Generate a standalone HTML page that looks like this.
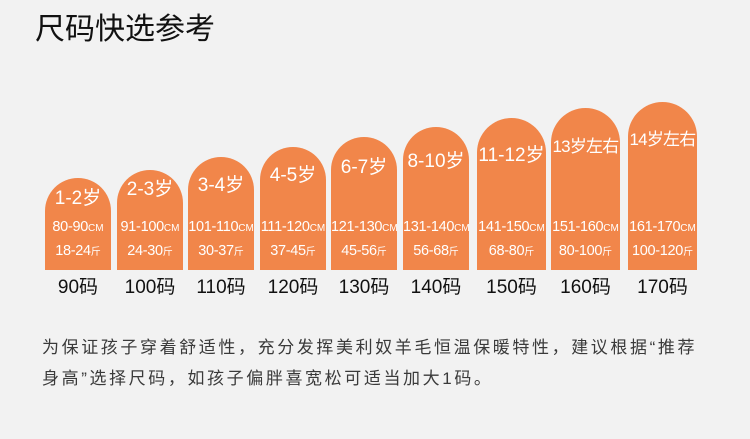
<!DOCTYPE html>
<html><head><meta charset="utf-8"><style>
body{margin:0;width:750px;height:439px;background:#f2f2f2;position:relative;overflow:hidden;font-family:"Liberation Sans","Noto Sans CJK SC",sans-serif}
.t{position:absolute;left:35px;top:10px;font-size:30px;color:#111;line-height:40px}
.b{position:absolute;background:#f1864a;bottom:169px;color:#fff;text-align:center}
.b div{position:absolute;left:0;right:0;white-space:nowrap}
.a{font-size:19px;line-height:22px}
.a.n{font-size:17px;letter-spacing:-0.8px}
.c{font-size:14.5px;line-height:18px;letter-spacing:-0.3px}
.c small{font-size:10px;letter-spacing:0}
.s{position:absolute;top:276px;font-size:19px;color:#111;text-align:center;line-height:24px}
.p{position:absolute;left:42px;font-size:17px;color:#3a3a3a;letter-spacing:2.6px;line-height:24px;white-space:nowrap}
</style></head><body>
<div class="t">尺码快选参考</div>

<div class="b" style="left:45px;width:66px;top:178px;border-radius:33px 33px 0 0"><div class="a" style="top:10px">1-2岁</div><div class="c" style="top:40px">80-90<small>CM</small></div><div class="c" style="top:64px">18-24<small>斤</small></div></div>
<div class="b" style="left:117px;width:66px;top:170px;border-radius:33px 33px 0 0"><div class="a" style="top:9px">2-3岁</div><div class="c" style="top:48px">91-100<small>CM</small></div><div class="c" style="top:72px">24-30<small>斤</small></div></div>
<div class="b" style="left:188px;width:66px;top:157px;border-radius:33px 33px 0 0"><div class="a" style="top:18px">3-4岁</div><div class="c" style="top:61px">101-110<small>CM</small></div><div class="c" style="top:85px">30-37<small>斤</small></div></div>
<div class="b" style="left:260px;width:66px;top:147px;border-radius:33px 33px 0 0"><div class="a" style="top:18px">4-5岁</div><div class="c" style="top:71px">111-120<small>CM</small></div><div class="c" style="top:95px">37-45<small>斤</small></div></div>
<div class="b" style="left:331px;width:66px;top:137px;border-radius:33px 33px 0 0"><div class="a" style="top:20px">6-7岁</div><div class="c" style="top:81px">121-130<small>CM</small></div><div class="c" style="top:105px">45-56<small>斤</small></div></div>
<div class="b" style="left:403px;width:66px;top:127px;border-radius:33px 33px 0 0"><div class="a" style="top:24px">8-10岁</div><div class="c" style="top:91px">131-140<small>CM</small></div><div class="c" style="top:115px">56-68<small>斤</small></div></div>
<div class="b" style="left:477px;width:69px;top:118px;border-radius:34.5px 34.5px 0 0"><div class="a" style="top:27px">11-12岁</div><div class="c" style="top:100px">141-150<small>CM</small></div><div class="c" style="top:124px">68-80<small>斤</small></div></div>
<div class="b" style="left:551px;width:69px;top:108px;border-radius:34.5px 34.5px 0 0"><div class="a n" style="top:28px">13岁左右</div><div class="c" style="top:110px">151-160<small>CM</small></div><div class="c" style="top:134px">80-100<small>斤</small></div></div>
<div class="b" style="left:628px;width:69px;top:102px;border-radius:34.5px 34.5px 0 0"><div class="a n" style="top:27px">14岁左右</div><div class="c" style="top:116px">161-170<small>CM</small></div><div class="c" style="top:140px">100-120<small>斤</small></div></div>

<div class="s" style="left:45px;width:66px">90码</div>
<div class="s" style="left:117px;width:66px">100码</div>
<div class="s" style="left:188px;width:66px">110码</div>
<div class="s" style="left:260px;width:66px">120码</div>
<div class="s" style="left:331px;width:66px">130码</div>
<div class="s" style="left:403px;width:66px">140码</div>
<div class="s" style="left:477px;width:69px">150码</div>
<div class="s" style="left:551px;width:69px">160码</div>
<div class="s" style="left:628px;width:69px">170码</div>

<div class="p" style="top:336px">为保证孩子穿着舒适性，充分发挥美利奴羊毛恒温保暖特性，建议根据“推荐</div>
<div class="p" style="top:367px">身高”选择尺码，如孩子偏胖喜宽松可适当加大1码。</div>
</body></html>
